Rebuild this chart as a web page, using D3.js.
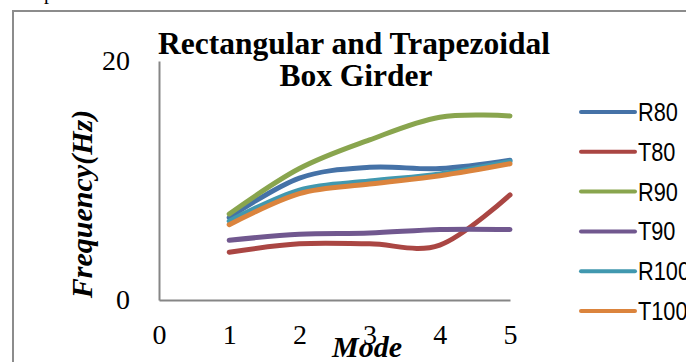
<!DOCTYPE html>
<html lang="en">
<head>
<meta charset="UTF-8">
<title>Frequency vs Mode</title>
<script src="https://cdn.jsdelivr.net/npm/d3@7"></script>
<style>
  html, body { margin: 0; padding: 0; background: #fff; }
  svg { display: block; }
</style>
</head>
<body>
<svg id="chart" width="686" height="362"></svg>
<script>
// chart data
var modes = [1, 2, 3, 4, 5]
var seriesNames = ['R80', 'T80', 'R90', 'T90', 'R100', 'T100']
var seriesColors = ['#4572A7', '#AA4643', '#89A54E', '#71588F', '#4198AF', '#DB843D']
var R80 = [6.9, 10.2, 11.1, 11.0, 11.7]
var T80 = [4.0, 4.7, 4.7, 4.6, 8.8]
var R90 = [7.2, 11.0, 13.4, 15.3, 15.4]
var T90 = [5.0, 5.5, 5.6, 5.9, 5.9]
var R100 = [6.6, 9.2, 9.95, 10.55, 11.6]
var T100 = [6.3, 8.9, 9.7, 10.4, 11.4]
var xTicks = [0, 1, 2, 3, 4, 5]
var yTicks = [0, 20]

var allSeries = [R80, T80, R90, T90, R100, T100]

var svg = d3.select('#chart')
var serif = '"Liberation Serif", "Times New Roman", serif'

// outer frame
svg.append('path')
  .attr('d', 'M13,370 L13,11 L690,11')
  .attr('fill', 'none')
  .attr('stroke', '#8c8c8c')
  .attr('stroke-width', 2)

svg.append('text')
  .attr('x', 44).attr('y', -1)
  .attr('font-family', serif).attr('font-size', 20)
  .text('p')

var x = d3.scaleLinear().domain([0, 5]).range([159, 510])
var y = d3.scaleLinear().domain([0, 20]).range([300, 61])

// axes (lines only, no ticks)
var xAxis = d3.axisBottom(x).tickValues(xTicks).tickFormat(d3.format('d')).tickSize(0).tickPadding(24)
var yAxis = d3.axisLeft(y).tickValues(yTicks).tickFormat(d3.format('d')).tickSize(0).tickPadding(29)

var gx = svg.append('g').attr('transform', 'translate(0,' + y(0) + ')').call(xAxis)
var gy = svg.append('g').attr('transform', 'translate(' + x(0) + ',0)').call(yAxis)

;[gx, gy].forEach(function (g) {
  g.select('.domain').attr('stroke', '#868686').attr('stroke-width', 2)
  g.selectAll('text')
    .attr('font-family', serif)
    .attr('font-size', 28)
    .attr('fill', '#000')
})

// lines
var line = d3.line()
  .x(function (d, i) { return x(modes[i]) })
  .y(function (d) { return y(d) })
  .curve(d3.curveCardinal.tension(0))

allSeries.forEach(function (vals, i) {
  svg.append('path')
    .attr('d', line(vals))
    .attr('fill', 'none')
    .attr('stroke', seriesColors[i])
    .attr('stroke-width', 5)
    .attr('stroke-linecap', 'round')
    .attr('stroke-linejoin', 'round')
})

// title
var title = svg.append('text')
  .attr('text-anchor', 'middle')
  .attr('font-family', serif)
  .attr('font-weight', 'bold')
  .attr('font-size', 31.5)
title.append('tspan').attr('x', 354).attr('y', 54).text('Rectangular and Trapezoidal')
title.append('tspan').attr('x', 356).attr('y', 86).text('Box Girder')

// axis titles
svg.append('text')
  .attr('transform', 'translate(92,204) rotate(-90)')
  .attr('text-anchor', 'middle')
  .attr('font-family', serif)
  .attr('font-weight', 'bold')
  .attr('font-style', 'italic')
  .attr('font-size', 30)
  .text('Frequency(Hz)')

svg.append('text')
  .attr('x', 367).attr('y', 357)
  .attr('text-anchor', 'middle')
  .attr('font-family', serif)
  .attr('font-weight', 'bold')
  .attr('font-style', 'italic')
  .attr('font-size', 30)
  .text('Mode')

// legend
var legend = svg.append('g')
seriesNames.forEach(function (name, i) {
  var ly = 112 + i * 39.8
  legend.append('line')
    .attr('x1', 581).attr('x2', 635)
    .attr('y1', ly).attr('y2', ly)
    .attr('stroke', seriesColors[i])
    .attr('stroke-width', 4)
    .attr('stroke-linecap', 'round')
  legend.append('text')
    .attr('transform', 'translate(638,' + (ly + 9) + ') scale(0.87,1)')
    .attr('font-family', '"Liberation Sans", Arial, sans-serif')
    .attr('font-size', 25)
    .attr('fill', '#000')
    .text(name)
})
</script>
</body>
</html>
